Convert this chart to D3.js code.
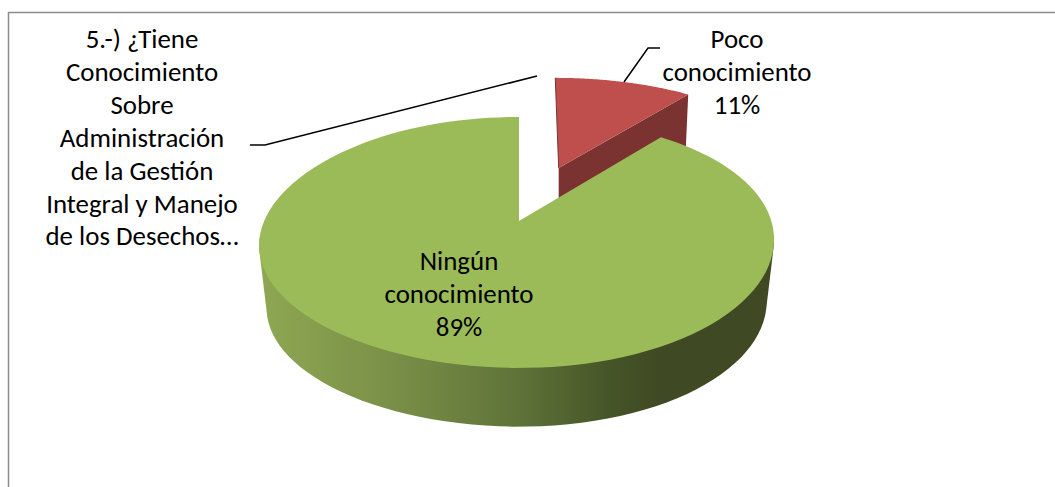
<!DOCTYPE html>
<html><head><meta charset="utf-8">
<script src="https://d3js.org/d3.v7.min.js"></script>
<style>html,body{margin:0;background:#fff}svg{display:block}text{font-family:Carlito,Lato,sans-serif;fill:#000}</style>
</head><body><div id="c"></div>
<script>
const categories = ["Poco conocimiento", "Ningún conocimiento"];
const values = [11, 89];
const percentLabels = ["11%", "89%"];
const titleLines = ["5.-) ¿Tiene","Conocimiento","Sobre","Administración","de la Gestión","Integral y Manejo","de los Desechos…"];
const colorsTop = ["#be4f4c", "#9bbb59"];
const colorsWall = ["#7a3331", "#3f4923"];

const W = 1055, H = 487;
const svg = d3.select("#c").append("svg").attr("width", W).attr("height", H);
const defs = svg.append("defs");
const grad = defs.append("linearGradient").attr("id","side").attr("gradientUnits","userSpaceOnUse")
  .attr("x1",262).attr("x2",772).attr("y1",0).attr("y2",0);
[[0,"#8ea752"],[0.25,"#7a9048"],[0.5,"#5f7339"],[0.68,"#465528"],[0.78,"#3f4923"],[1,"#3f4923"]]
  .forEach(s=>grad.append("stop").attr("offset",s[0]).attr("stop-color",s[1]));

// frame
svg.append("path").attr("d",`M8.5,${H}V12.5H${W}`).attr("fill","none").attr("stroke","#8c8c8c").attr("stroke-width",1.5);

// perspective projection of the tilted pie plane
const apex = {x:519, y:221}, A = 253.7, B = 121.8, k = 0.171;
const depth = 63, bottomScale = 0.971;
function project(u, v, low){
  const d = 1 + k*v, s = low ? bottomScale : 1;
  return [apex.x + s*A*u/d - 2.5*u*u,
          apex.y + (low?depth:0) - s*B*v/d - 3.5*u*u*u];
}
const pieLayout = d3.pie().sort(null).value(d=>d)(values);
const line = d3.line();
const explode = [0.5, 0];
function slicePoints(p, i, low){
  const e = explode[i], mid = (p.startAngle+p.endAngle)/2;
  const ou = e*Math.sin(mid), ov = e*Math.cos(mid);
  const angles = d3.range(0,121).map(j=>p.startAngle + (p.endAngle-p.startAngle)*j/120);
  const arc = angles.map(a=>project(ou+Math.sin(a), ov+Math.cos(a), low));
  const front = angles.filter(a=>Math.cos(a)<-0.1).map(a=>project(ou+Math.sin(a), ov+Math.cos(a), low));
  return {arc, front, center: project(ou, ov, low)};
}
const redShift = 2, redApexNudge = -2;
const gRed = svg.append("g").attr("transform",`translate(${redShift},0)`);
const gGreen = svg.append("g");

// exploded slice
{
  const p = pieLayout[0], t = slicePoints(p,0,false), b = slicePoints(p,0,true);
  const c = [t.center[0]+redApexNudge, t.center[1]];
  const lastT = t.arc[t.arc.length-1], lastB = b.arc[b.arc.length-1];
  gRed.append("path").attr("d", line([c,lastT,[lastT[0]-3,lastB[1]],[c[0],b.center[1]]])+"Z").attr("fill",colorsWall[0]);
  gRed.append("path").attr("d", line([c,...t.arc])+"Z").attr("fill",colorsTop[0]);
  gRed.append("path").attr("d", line([t.arc[0],c])).attr("fill","none").attr("stroke",colorsWall[0]).attr("stroke-width",1);
}
// main slice
{
  const p = pieLayout[1], t = slicePoints(p,1,false), b = slicePoints(p,1,true);
  gGreen.append("path").attr("d", line(d3.polygonHull([...t.front,...b.front]))+"Z").attr("fill","url(#side)");
  gGreen.append("path").attr("d", line([t.center,...t.arc])+"Z").attr("fill",colorsTop[1]);
}
// leaders
const leaders = [[[250,145],[265,145],[537,76]],[[660,48],[648,48],[624,82]]];
svg.selectAll("path.leader").data(leaders).join("path").attr("class","leader")
  .attr("d",d=>line(d)).attr("fill","none").attr("stroke","#000").attr("stroke-width",1.5);

// labels
const fs = 26.9, lh = 32.9;
function block(lines, cx, cy){
  const g = svg.append("g");
  lines.forEach((s,i)=>g.append("text").attr("x",cx).attr("y",cy+i*lh).attr("text-anchor","middle")
    .attr("dominant-baseline","central").attr("font-size",fs).text(s));
}
block(titleLines,142,38.5);
const pocoWords = categories[0].split(" "), ningWords = categories[1].split(" ");
block([...pocoWords,percentLabels[0]],737,38.5);
block([...ningWords,percentLabels[1]],459,260.5);
</script></body></html>
